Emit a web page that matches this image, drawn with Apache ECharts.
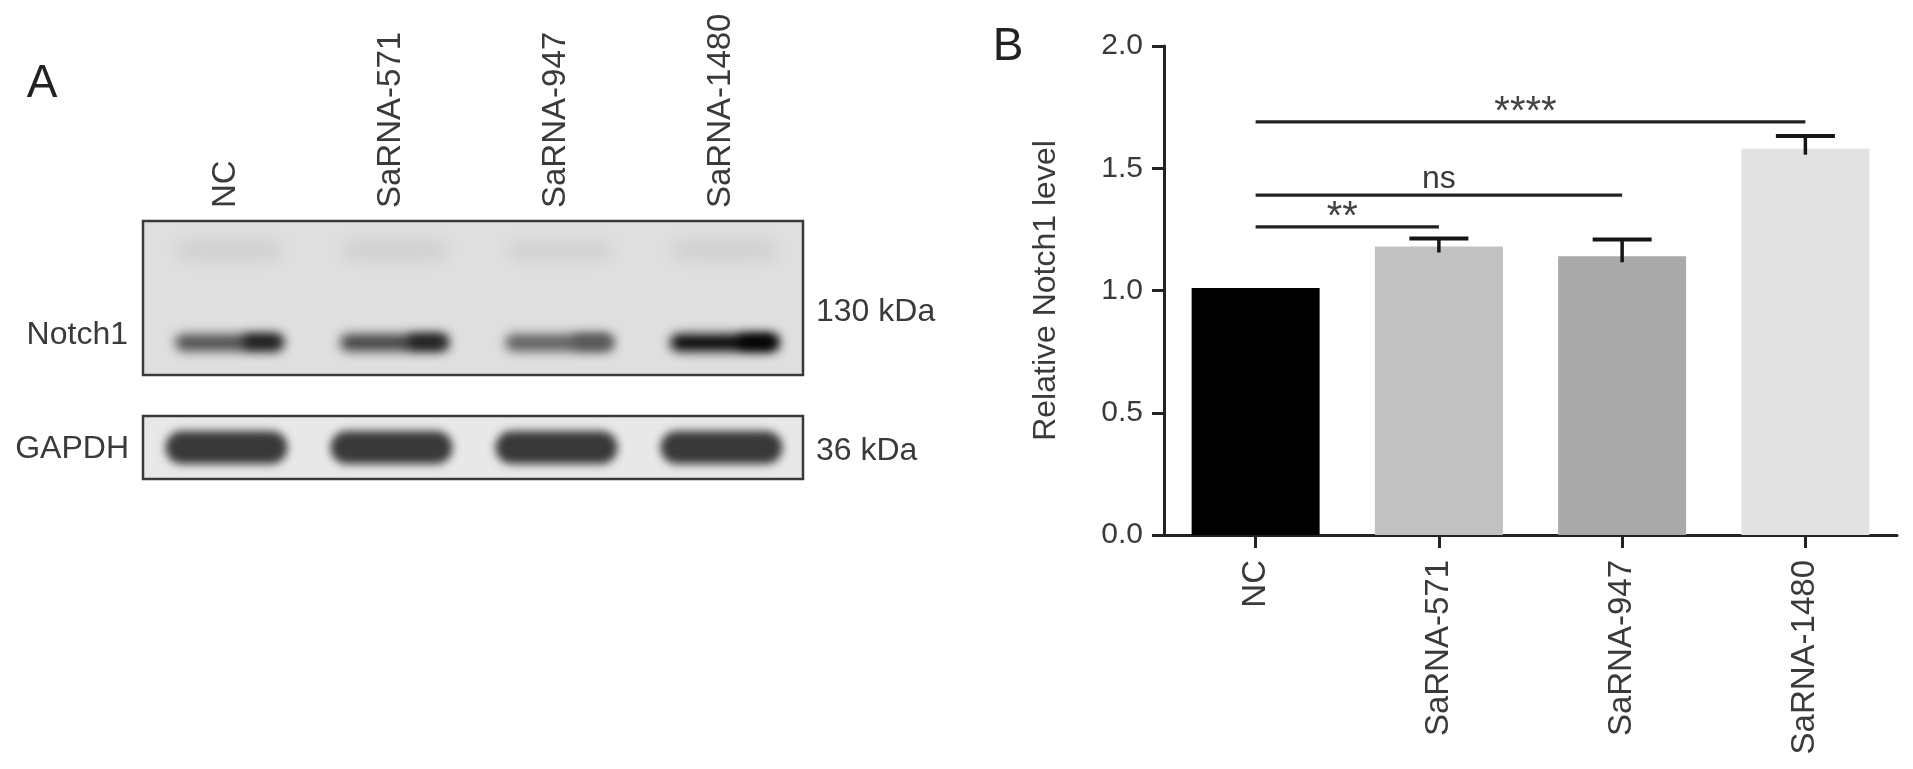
<!DOCTYPE html>
<html>
<head>
<meta charset="utf-8">
<script src="https://cdn.jsdelivr.net/npm/echarts@6/dist/echarts.min.js"></script>
<style>
html,body{margin:0;padding:0;background:#fff;}
#chart{width:1913px;height:769px;}
</style>
</head>
<body>
<div id="chart"></div>
<script>
// ---------- data ----------
const categories = ['NC', 'SaRNA-571', 'SaRNA-947', 'SaRNA-1480'];
const notch1Means = [1.01, 1.18, 1.14, 1.58];
const notch1Sem = [0, 0.033, 0.069, 0.052];
const yTickLabels = ['0.0', '0.5', '1.0', '1.5', '2.0'];
const compFrom = [0, 0, 0];
const compTo = [1, 2, 3];
const compY = [1.26, 1.39, 1.69];
const compLabel = ['**', 'ns', '****'];

// western blot (relative band density per lane, 0 = none, 1 = saturated)
const laneLabels = ['NC', 'SaRNA-571', 'SaRNA-947', 'SaRNA-1480'];
const notch1Density = [0.64, 0.70, 0.58, 0.98];
const notch1EndDensity = [0.90, 0.88, 0.62, 1.0];
const upperDensity = [0.08, 0.08, 0.07, 0.08];
const gapdhDensity = [0.75, 0.75, 0.75, 0.75];
const proteinLabels = ['Notch1', 'GAPDH'];
const kdaLabels = ['130 kDa', '36 kDa'];

// ---------- styles ----------
const FONT = 'Liberation Sans, Arial, Helvetica, sans-serif';
const TXT = '#3a3a3a';
const barColors = ['#000000', '#c1c1c1', '#a9a9a9', '#e2e2e2'];
const BG_LEVEL = 226;

function gray(d) {
  const v = Math.max(0, Math.round(BG_LEVEL * (1 - d)));
  return 'rgb(' + v + ',' + v + ',' + v + ')';
}
const OFF = 4000;
function blob(cx, cy, w, h, color, blur) {
  return {
    type: 'rect',
    shape: { x: cx - w / 2 - OFF, y: cy - h / 2, width: w, height: h, r: h / 2 },
    style: { fill: color, shadowBlur: blur, shadowColor: color, shadowOffsetX: OFF, shadowOffsetY: 0 },
    silent: true
  };
}

const chart = echarts.init(document.getElementById('chart'), null, { renderer: 'canvas' });

const option = {
  animation: false,
  backgroundColor: '#ffffff',
  textStyle: { fontFamily: FONT },
  grid: [
    { left: 1164, top: 46, width: 733, height: 489, show: false },
    { left: 143, top: 221, width: 660, height: 154, show: true, backgroundColor: '#dfdfdf', borderColor: '#3a3a3a', borderWidth: 2.5 },
    { left: 143, top: 416, width: 660, height: 63, show: true, backgroundColor: '#e8e8e8', borderColor: '#3a3a3a', borderWidth: 2.5 }
  ],
  xAxis: [
    {
      gridIndex: 0, type: 'category', data: categories,
      axisLine: { show: true, lineStyle: { color: '#222', width: 3 } },
      axisTick: { show: true, alignWithLabel: true, length: 13, lineStyle: { color: '#222', width: 3 } },
      axisLabel: { rotate: 90, fontSize: 33, margin: 25, color: TXT, fontFamily: FONT }
    },
    {
      gridIndex: 1, type: 'category', data: laneLabels, position: 'top',
      axisLine: { show: false }, axisTick: { show: false },
      axisLabel: { rotate: 90, fontSize: 33, margin: 13, color: TXT, fontFamily: FONT }
    },
    {
      gridIndex: 2, type: 'category', data: laneLabels,
      axisLine: { show: false }, axisTick: { show: false }, axisLabel: { show: false }
    }
  ],
  yAxis: [
    {
      gridIndex: 0, type: 'value', min: 0, max: 2, interval: 0.5,
      axisLine: { show: true, lineStyle: { color: '#222', width: 3 } },
      axisTick: { show: true, length: 12, lineStyle: { color: '#222', width: 3 } },
      axisLabel: { fontSize: 30, margin: 21, color: TXT, fontFamily: FONT,
        formatter: function (v) { return yTickLabels[Math.round(v / 0.5)]; } },
      splitLine: { show: false },
      name: 'Relative Notch1 level', nameLocation: 'middle', nameGap: 102,
      nameTextStyle: { fontSize: 32, color: TXT, fontFamily: FONT }
    },
    { gridIndex: 1, type: 'value', min: 0, max: 1, show: false },
    { gridIndex: 2, type: 'value', min: 0, max: 1, show: false }
  ],
  series: [
    {
      type: 'bar', xAxisIndex: 0, yAxisIndex: 0, barWidth: 128, z: 2,
      data: notch1Means.map(function (v, i) { return { value: v, itemStyle: { color: barColors[i] } }; })
    },
    {
      type: 'custom', xAxisIndex: 0, yAxisIndex: 0, z: 4,
      data: notch1Means.map(function (v, i) { return [i, v, notch1Sem[i]]; }),
      encode: { x: 0, y: 1 },
      renderItem: function (params, api) {
        const i = api.value(0), m = api.value(1), e = api.value(2);
        if (!e) return null;
        const top = api.coord([i, m + e]);
        const base = api.coord([i, m]);
        return {
          type: 'group', children: [
            { type: 'line', shape: { x1: top[0], y1: top[1], x2: top[0], y2: base[1] + 6 }, style: { stroke: '#151515', lineWidth: 3.5 } },
            { type: 'line', shape: { x1: top[0] - 29.5, y1: top[1], x2: top[0] + 29.5, y2: top[1] }, style: { stroke: '#151515', lineWidth: 4 } }
          ]
        };
      }
    },
    {
      type: 'custom', xAxisIndex: 0, yAxisIndex: 0, z: 4,
      data: compY.map(function (y, k) { return [compFrom[k], y, compTo[k]]; }),
      encode: { x: [0, 2], y: 1 },
      renderItem: function (params, api) {
        const a = api.coord([api.value(0), api.value(1)]);
        const b = api.coord([api.value(2), api.value(1)]);
        const lab = compLabel[params.dataIndex];
        const isStar = lab.indexOf('*') >= 0;
        return {
          type: 'group', children: [
            { type: 'line', shape: { x1: a[0], y1: a[1], x2: b[0], y2: a[1] }, style: { stroke: '#222', lineWidth: 3.3 } },
            { type: 'text', style: { text: lab, x: (a[0] + b[0]) / 2 - (isStar ? 5 : 0), y: a[1] + (isStar ? -9 : -16),
              align: 'center', verticalAlign: 'middle',
              fontSize: isStar ? 40 : 32, fontFamily: FONT, fill: isStar ? '#444' : TXT } }
          ]
        };
      }
    },
    {
      type: 'custom', xAxisIndex: 1, yAxisIndex: 1, z: 3,
      data: laneLabels.map(function (l, i) { return [i, notch1Density[i], notch1EndDensity[i], upperDensity[i]]; }),
      renderItem: function (params, api) {
        const i = api.value(0);
        const lw = api.size([1, 0])[0];
        const low = api.coord([i, 0.21]);
        const up = api.coord([i, 0.81]);
        const w = lw * 0.66;
        const d = api.value(1), de = api.value(2), du = api.value(3);
        const kids = [
          blob(up[0] + 4, up[1], lw * 0.64, 20, gray(du), 16),
          blob(low[0] + 4, low[1], w, 17, gray(d), 11)
        ];
        if (de > d) kids.push(blob(low[0] + 4 + w * 0.3, low[1] - 1, w * 0.36, 13, gray(de), 11));
        return { type: 'group', children: kids };
      }
    },
    {
      type: 'custom', xAxisIndex: 2, yAxisIndex: 2, z: 3,
      data: laneLabels.map(function (l, i) { return [i, gapdhDensity[i]]; }),
      renderItem: function (params, api) {
        const i = api.value(0);
        const lw = api.size([1, 0])[0];
        const c = api.coord([i, 0.5]);
        return blob(c[0] + 1, c[1], lw * 0.74, 33, gray(api.value(1)), 9);
      }
    }
  ],
  graphic: [
    { type: 'text', x: 42, y: 84, style: { text: 'A', fontSize: 46, fontFamily: FONT, fill: '#222', align: 'center', verticalAlign: 'middle' } },
    { type: 'text', x: 1008, y: 47, style: { text: 'B', fontSize: 46, fontFamily: FONT, fill: '#222', align: 'center', verticalAlign: 'middle' } },
    { type: 'text', x: 128, y: 335, style: { text: proteinLabels[0], fontSize: 32, fontFamily: FONT, fill: TXT, align: 'right', verticalAlign: 'middle' } },
    { type: 'text', x: 129, y: 449, style: { text: proteinLabels[1], fontSize: 32, fontFamily: FONT, fill: TXT, align: 'right', verticalAlign: 'middle' } },
    { type: 'text', x: 816, y: 312, style: { text: kdaLabels[0], fontSize: 32, fontFamily: FONT, fill: TXT, align: 'left', verticalAlign: 'middle' } },
    { type: 'text', x: 816, y: 451, style: { text: kdaLabels[1], fontSize: 32, fontFamily: FONT, fill: TXT, align: 'left', verticalAlign: 'middle' } }
  ]
};
chart.setOption(option);
</script>
</body>
</html>
